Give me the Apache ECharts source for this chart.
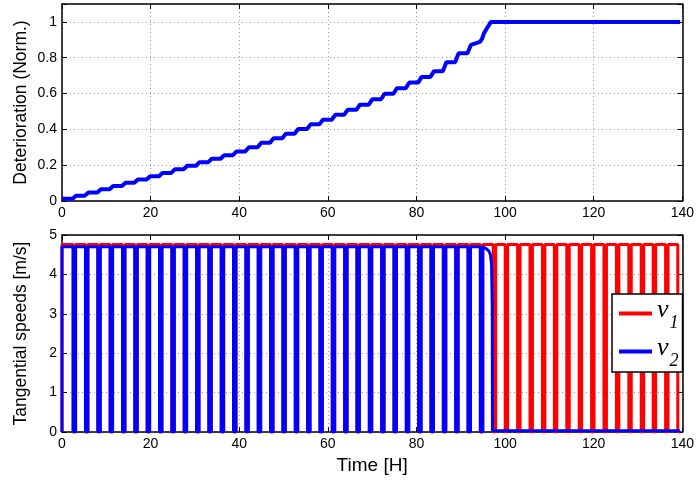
<!DOCTYPE html>
<html><head><meta charset="utf-8">
<script src="https://cdn.jsdelivr.net/npm/echarts@6/dist/echarts.min.js"></script>
<style>html,body{margin:0;padding:0;background:#fff}#c{width:697px;height:487px}</style>
</head><body><div id="c"></div><script>
// ---- data ----
const xTickLabels = ['0','20','40','60','80','100','120','140'];
const detTickLabels = ['0','0.2','0.4','0.6','0.8','1'];
const speedTickLabels = ['0','1','2','3','4','5'];

// times [H] at which both speeds briefly drop to zero
const dropTimes = [2.79, 5.57, 8.36, 11.14, 13.93, 16.71, 19.50, 22.28, 25.07, 27.85,
  30.64, 33.42, 36.21, 38.99, 41.78, 44.56, 47.35, 50.13, 52.92, 55.70,
  58.49, 61.27, 64.06, 66.84, 69.63, 72.41, 75.20, 77.98, 80.77, 83.55,
  86.34, 89.12, 91.91, 94.69];
// drops of v1 after v2 has failed
const v1LateDrops = [97.6, 100.3, 103.1, 105.9, 108.7, 111.4, 114.2, 117.0, 119.8,
  122.6, 125.4, 128.2, 131.0, 133.7, 136.5, 139.25];
const v1High = 4.76;
const v2High = 4.70;
const v2Low = 0.03;
const dropWidth = 0.55;
const endTime = 139.5;
// v2 failure (last plateau bending down)
const v2FadeTimes  = [95.2, 95.8, 96.3, 96.7, 96.95, 97.1, 97.15];
const v2FadeValues = [4.68, 4.65, 4.60, 4.50, 4.25, 3.2, 0.03];

// deterioration level on each interval between drops (0..t1, t1..t2, ...)
const detLevels = [0.012, 0.030, 0.048, 0.066, 0.084, 0.102, 0.120, 0.138, 0.157, 0.177,
  0.197, 0.217, 0.236, 0.256, 0.277, 0.300, 0.325, 0.350, 0.376, 0.402,
  0.428, 0.454, 0.481, 0.509, 0.538, 0.568, 0.599, 0.630, 0.661, 0.693,
  0.725, 0.775, 0.825, 0.872];
const detRise = 0.8;
const detFinalTimes  = [94.3, 94.8, 95.2, 95.8, 96.3, 96.8, 139.5];
const detFinalValues = [0.888, 0.905, 0.935, 0.96, 0.98, 1.0, 1.0];

// ---- build series ----
function speedPoints(drops, high, lastEndsLow) {
  const pts = [[0, 0], [0, high]];
  drops.forEach((t, i) => {
    const a = t - dropWidth / 2, b = t + dropWidth / 2;
    pts.push([a, high], [a, 0]);
    if (lastEndsLow && i === drops.length - 1) { pts.push([endTime, 0]); }
    else { pts.push([b, 0], [b, high]); }
  });
  return pts;
}
const v1Data = speedPoints(dropTimes.concat(v1LateDrops), v1High, true);
const v2Data = speedPoints(dropTimes, v2High, false);
v2FadeTimes.forEach((t, i) => v2Data.push([t, v2FadeValues[i]]));
v2Data.push([endTime, v2Low]);

const detData = [[0, detLevels[0]]];
dropTimes.forEach((t, i) => {
  if (i + 1 < detLevels.length) {
    detData.push([t - detRise / 2, detLevels[i]], [t + detRise / 2, detLevels[i + 1]]);
  }
});
detFinalTimes.forEach((t, i) => detData.push([t, detFinalValues[i]]));

// ---- chart ----
const FONT = 'Liberation Sans, Arial, sans-serif';
const grids = [
  { left: 62, right: 12.5, top: 4, height: 197 },
  { left: 62, right: 12.5, top: 235, height: 197 }
];
const split = { show: true, lineStyle: { color: '#9a9a9a', type: [1, 3], width: 1 } };
const tick = { show: true, inside: true, length: 5, lineStyle: { color: '#000', width: 1 } };
function xAx(gi, bottom, withName) {
  return {
    type: 'value', gridIndex: gi, min: 0, max: 140, interval: 20,
    position: bottom ? 'bottom' : 'top',
    axisLine: { show: true, onZero: false, lineStyle: { color: '#000', width: 1.5 } },
    axisTick: tick,
    splitLine: bottom ? split : { show: false },
    axisLabel: bottom ? { show: true, color: '#000', fontSize: 14, fontFamily: FONT, margin: 5,
      formatter: v => xTickLabels[Math.round(v / 20)] } : { show: false },
    name: withName ? 'Time [H]' : '', nameLocation: 'middle', nameGap: 24, nameMoveOverlap: false,
    nameTextStyle: { color: '#000', fontSize: 19, fontFamily: FONT }
  };
}
function yAx(gi, left, cfg) {
  return Object.assign({
    type: 'value', gridIndex: gi, position: left ? 'left' : 'right',
    axisLine: { show: true, onZero: false, lineStyle: { color: '#000', width: 1.5 } },
    axisTick: tick,
    splitLine: left ? split : { show: false },
    nameLocation: 'middle', nameRotate: 90, nameGap: 32, nameMoveOverlap: false,
    nameTextStyle: { color: '#000', fontSize: 17.5, fontFamily: FONT }
  }, cfg);
}
const option = {
  animation: false,
  backgroundColor: '#fff',
  grid: grids,
  xAxis: [xAx(0, true, false), xAx(0, false, false), xAx(1, true, true), xAx(1, false, false)],
  yAxis: [
    yAx(0, true, { min: 0, max: 1.1, interval: 0.2, name: 'Deterioration (Norm.)',
      axisLabel: { color: '#000', fontSize: 14, fontFamily: FONT, margin: 5,
        formatter: v => { const k = Math.round(v / 0.2); return Math.abs(v - k * 0.2) < 1e-6 ? detTickLabels[k] : ''; } } }),
    yAx(0, false, { min: 0, max: 1.1, interval: 0.2, axisLabel: { show: false } }),
    yAx(1, true, { min: 0, max: 5, interval: 1, name: 'Tangential speeds [m/s]',
      axisLabel: { color: '#000', fontSize: 14, fontFamily: FONT, margin: 5,
        formatter: v => speedTickLabels[Math.round(v)] } }),
    yAx(1, false, { min: 0, max: 5, interval: 1, axisLabel: { show: false } })
  ],
  legend: {
    data: ['v1', 'v2'], orient: 'vertical', left: 612, top: 294,
    backgroundColor: '#fff', borderColor: '#000', borderWidth: 1.5,
    padding: [3.5, 4, 1.5, 7], itemGap: 3, icon: 'rect', itemWidth: 33, itemHeight: 4,
    formatter: name => '{v|v}{s|' + name.slice(1) + '}',
    textStyle: {
      rich: {
        v: { fontFamily: 'Liberation Serif, serif', fontStyle: 'italic', fontSize: 26, color: '#000', lineHeight: 28, height: 22, verticalAlign: 'top' },
        s: { fontFamily: 'Liberation Serif, serif', fontStyle: 'italic', fontSize: 18, color: '#000', lineHeight: 28, height: 8, verticalAlign: 'bottom', padding: [0, 0, 0, 1] }
      }
    }
  },
  series: [
    { name: 'det', type: 'line', xAxisIndex: 0, yAxisIndex: 0, data: detData, showSymbol: false,
      lineStyle: { color: '#0000ff', width: 4 }, itemStyle: { color: '#0000ff' } },
    { name: 'v1', type: 'line', xAxisIndex: 2, yAxisIndex: 2, data: v1Data, showSymbol: false,
      lineStyle: { color: '#ff0000', width: 3 }, itemStyle: { color: '#ff0000' } },
    { name: 'v2', type: 'line', xAxisIndex: 2, yAxisIndex: 2, data: v2Data, showSymbol: false,
      lineStyle: { color: '#0000ff', width: 3 }, itemStyle: { color: '#0000ff' } }
  ]
};
const chart = echarts.init(document.getElementById('c'), null, { renderer: 'canvas' });
chart.setOption(option);
</script></body></html>
